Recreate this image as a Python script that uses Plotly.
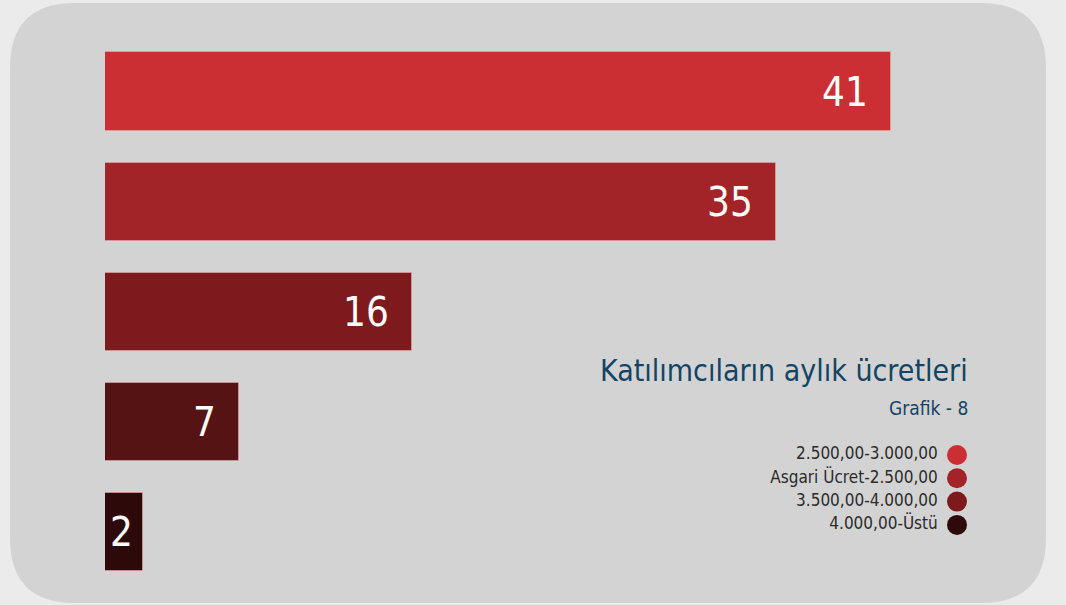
import plotly.graph_objects as go

# Data
categories = ["2.500,00-3.000,00", "Asgari Ücret-2.500,00", "3.500,00-4.000,00", "4.000,00-Üstü", "Diğer"]
values = [41, 35, 16, 7, 2]
bar_colors = ["#cb2f33", "#a32428", "#7c1a1d", "#561313", "#2e0909"]
legend_labels = ["2.500,00-3.000,00", "Asgari Ücret-2.500,00", "3.500,00-4.000,00", "4.000,00-Üstü"]
legend_colors = ["#cb2f33", "#a32428", "#7c1a1d", "#2e0a0a"]
title_text = "Katılımcıların aylık ücretleri"
subtitle_text = "Grafik - 8"

W, H = 1066, 605
ML = 105
PW = W - ML
FONT = "DejaVu Sans Condensed, Liberation Sans Narrow, sans-serif"

fig = go.Figure()

ypos = list(range(len(values)))
fig.add_trace(go.Bar(
    x=values, y=ypos, orientation="h",
    marker=dict(color=bar_colors, line=dict(color="rgba(230,170,170,0.6)", width=1)),
    width=0.71, showlegend=False, hoverinfo="x",
))

# value labels inside bar ends
for v, yy in zip(values, ypos):
    fig.add_annotation(x=v, y=yy, xref="x", yref="y", text=str(v),
                       showarrow=False, xanchor="right", yanchor="middle",
                       xshift=-21 if v > 2 else -8,
                       font=dict(family=FONT, size=40, color="white"))

# legend as scatter on auxiliary axes (circles on right of text)
leg_y = list(range(len(legend_labels)))
fig.add_trace(go.Scatter(
    x=[0] * len(legend_labels), y=leg_y,
    xaxis="x2", yaxis="y2", mode="markers",
    marker=dict(size=20, color=legend_colors),
    showlegend=False, hoverinfo="skip",
))
fig.add_trace(go.Scatter(
    x=[-0.02] * len(legend_labels), y=leg_y,
    xaxis="x2", yaxis="y2", mode="text",
    text=legend_labels, textposition="middle left",
    textfont=dict(family=FONT, size=17, color="#2b2b2b"),
    showlegend=False, hoverinfo="text",
))

# rounded background panel (pixel -> paper)
def px(x):
    return (x - ML) / PW

def py(y):
    return 1 - y / H

x0, x1, y0, y1, r = 10, 1046, 3, 603, 65
path = (
    f"M {px(x0 + r)} {py(y0)} L {px(x1 - r)} {py(y0)} "
    f"Q {px(x1)} {py(y0)} {px(x1)} {py(y0 + r)} "
    f"L {px(x1)} {py(y1 - r)} Q {px(x1)} {py(y1)} {px(x1 - r)} {py(y1)} "
    f"L {px(x0 + r)} {py(y1)} Q {px(x0)} {py(y1)} {px(x0)} {py(y1 - r)} "
    f"L {px(x0)} {py(y0 + r)} Q {px(x0)} {py(y0)} {px(x0 + r)} {py(y0)} Z"
)
fig.add_shape(type="path", path=path, xref="paper", yref="paper",
              fillcolor="#d3d3d3", line=dict(width=0), layer="below")

fig.add_annotation(x=px(970), y=py(370), xref="paper", yref="paper",
                   text=title_text, showarrow=False, xanchor="right", yanchor="middle",
                   font=dict(family=FONT, size=30, color="#124565"))
fig.add_annotation(x=px(970), y=py(408), xref="paper", yref="paper",
                   text=subtitle_text, showarrow=False, xanchor="right", yanchor="middle",
                   font=dict(family=FONT, size=19, color="#124565"))

unit = (891 - ML) / 41.0
band = 110.1
c0 = 91.5
fig.update_layout(
    width=W, height=H,
    margin=dict(l=ML, r=0, t=0, b=0),
    paper_bgcolor="#ebebeb", plot_bgcolor="rgba(0,0,0,0)",
    xaxis=dict(range=[0, PW / unit], visible=False, fixedrange=True),
    yaxis=dict(range=[(H - c0) / band, -c0 / band], visible=False, fixedrange=True),
    xaxis2=dict(range=[-px(957), 1 - px(957)], overlaying="x", visible=False, fixedrange=True),
    yaxis2=dict(range=[(H - 455) / 23.3, -455 / 23.3], overlaying="y", visible=False, fixedrange=True),
    bargap=0,
)

fig.write_html("out.html", config={"displayModeBar": False},
               post_script="document.body.style.margin='0';document.body.style.background='#ebebeb';")
